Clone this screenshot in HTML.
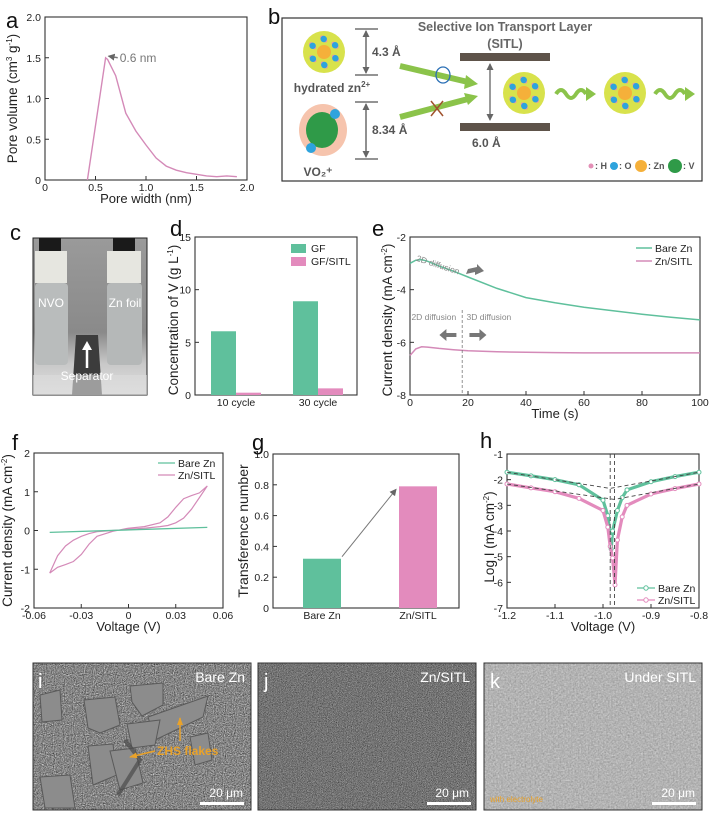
<!DOCTYPE html>
<html><head><meta charset="utf-8"><style>
html,body{margin:0;padding:0;background:#fff;}
svg{display:block;font-family:"Liberation Sans",Arial,sans-serif;}
</style></head><body>
<svg id="fig" width="710" height="813" viewBox="0 0 710 813" xmlns="http://www.w3.org/2000/svg">
<defs>
<filter id="nz1" x="0" y="0" width="100%" height="100%" color-interpolation-filters="sRGB"><feTurbulence type="fractalNoise" baseFrequency="0.9" numOctaves="2" seed="3"/><feColorMatrix type="matrix" values="0.6 0.6 0 0 -0.08  0.6 0.6 0 0 -0.08  0.6 0.6 0 0 -0.08  0 0 0 0 1"/></filter>
<filter id="nz2" x="0" y="0" width="100%" height="100%" color-interpolation-filters="sRGB"><feTurbulence type="fractalNoise" baseFrequency="1.2" numOctaves="2" seed="7"/><feColorMatrix type="matrix" values="0.5 0.5 0 0 -0.05  0.5 0.5 0 0 -0.05  0.5 0.5 0 0 -0.05  0 0 0 0 1"/></filter>
<filter id="nz3" x="0" y="0" width="100%" height="100%" color-interpolation-filters="sRGB"><feTurbulence type="fractalNoise" baseFrequency="0.6" numOctaves="3" seed="11"/><feColorMatrix type="matrix" values="0.2 0.2 0 0 0.5  0.2 0.2 0 0 0.5  0.2 0.2 0 0 0.5  0 0 0 0 1"/></filter>
<linearGradient id="photoBg" x1="0" y1="0" x2="0" y2="1"><stop offset="0" stop-color="#9a9a9a"/><stop offset="0.6" stop-color="#8a8a8a"/><stop offset="0.8" stop-color="#c8c8c8"/><stop offset="1" stop-color="#e0e0e0"/></linearGradient>
<marker id="arrGray" markerUnits="userSpaceOnUse" markerWidth="7" markerHeight="7" refX="6" refY="3.5" orient="auto-start-reverse"><path d="M0,0 L7,3.5 L0,7 z" fill="#666"/></marker>
<marker id="arrOr" markerUnits="userSpaceOnUse" markerWidth="8" markerHeight="8" refX="7" refY="4" orient="auto"><path d="M0,1 L8,4 L0,7 z" fill="#e9a22a"/></marker>
</defs>

<!-- panel labels -->
<g font-size="22" fill="#111">
<text x="6" y="28">a</text>
<text x="268" y="24">b</text>
<text x="10" y="240">c</text>
<text x="170" y="236">d</text>
<text x="372" y="236">e</text>
<text x="12" y="450">f</text>
<text x="252" y="450">g</text>
<text x="480" y="448">h</text>
</g>

<!-- panel b schematic -->
<g>
<rect x="282" y="18" width="420" height="163" fill="#fff" stroke="#333" stroke-width="1.2"/>
<text x="505" y="31" text-anchor="middle" font-size="12.5" font-weight="bold" fill="#666">Selective Ion Transport Layer</text>
<text x="505" y="48" text-anchor="middle" font-size="12.5" font-weight="bold" fill="#666">(SITL)</text>
<g id="hzn1"></g>
<text x="332" y="92" text-anchor="middle" font-size="12" font-weight="bold" fill="#555">hydrated zn<tspan font-size="8" dy="-5">2+</tspan></text>
<ellipse cx="323" cy="130" rx="24" ry="26" fill="#f6c4ad"/>
<ellipse cx="322" cy="130" rx="16" ry="18" fill="#2f9a48"/>
<circle cx="335" cy="114" r="5" fill="#2ea3dd"/>
<circle cx="311" cy="148" r="5" fill="#2ea3dd"/>
<text x="318" y="176" text-anchor="middle" font-size="12" font-weight="bold" fill="#555">VO₂⁺</text>
<g stroke="#555" stroke-width="1.3">
<line x1="355" y1="29" x2="378" y2="29"/><line x1="355" y1="75" x2="378" y2="75"/><line x1="366" y1="31" x2="366" y2="73" marker-end="url(#arrGray)" marker-start="url(#arrGray)"/>
</g>
<text x="372" y="56" font-size="12" font-weight="bold" fill="#555">4.3 Å</text>
<g stroke="#555" stroke-width="1.3">
<line x1="355" y1="102" x2="378" y2="102"/><line x1="355" y1="159" x2="378" y2="159"/><line x1="366" y1="104" x2="366" y2="157" marker-end="url(#arrGray)" marker-start="url(#arrGray)"/>
</g>
<text x="372" y="134" font-size="12" font-weight="bold" fill="#555">8.34 Å</text>
<line x1="400" y1="66" x2="468" y2="82" stroke="#8bc34a" stroke-width="6"/>
<path d="M466,75 L478,84 L464,89 z" fill="#8bc34a"/>
<line x1="400" y1="117" x2="468" y2="99" stroke="#8bc34a" stroke-width="6"/>
<path d="M464,93 L478,96 L468,105 z" fill="#8bc34a"/>
<ellipse cx="443" cy="75" rx="7" ry="8" fill="none" stroke="#2a6fb5" stroke-width="1.3"/>
<g stroke="#a0522d" stroke-width="1.5"><line x1="431" y1="101" x2="443" y2="116"/><line x1="443" y1="101" x2="431" y2="116"/></g>
<rect x="460" y="53" width="90" height="8" fill="#5e534a"/>
<rect x="460" y="123" width="90" height="8" fill="#5e534a"/>
<line x1="490" y1="64" x2="490" y2="120" stroke="#555" stroke-width="1.2" marker-start="url(#arrGray)" marker-end="url(#arrGray)"/>
<text x="472" y="147" font-size="12" font-weight="bold" fill="#555">6.0 Å</text>
<g id="hzn2"></g>
<g id="hzn3"></g>
<path d="M556,94 q5,-8 10,0 t10,0 t10,0" fill="none" stroke="#8bc34a" stroke-width="4"/>
<path d="M586,87 L596,94 L586,101 z" fill="#8bc34a"/>
<path d="M655,94 q5,-8 10,0 t10,0 t10,0" fill="none" stroke="#8bc34a" stroke-width="4"/>
<path d="M685,87 L695,94 L685,101 z" fill="#8bc34a"/>
<g font-size="9" font-weight="bold" fill="#555">
<circle cx="591" cy="166" r="2.5" fill="#e38fb6"/><text x="595" y="169">: H</text>
<circle cx="614" cy="166" r="4" fill="#2ea3dd"/><text x="619" y="169">: O</text>
<circle cx="641" cy="166" r="6" fill="#f5b03a"/><text x="648" y="169">: Zn</text>
<circle cx="675" cy="166" r="7" fill="#2f9a48"/><text x="683" y="169">: V</text>
</g>
</g>

<!-- panel c photo -->
<g>
<rect x="33" y="238" width="114" height="157" fill="url(#photoBg)" stroke="#222"/>
<rect x="39" y="238" width="22" height="13" fill="#1a1a1a"/><rect x="113" y="238" width="22" height="13" fill="#1a1a1a"/>
<rect x="35" y="251" width="32" height="32" fill="#e6e6e0"/>
<rect x="107" y="251" width="34" height="32" fill="#e6e6e0"/>
<rect x="35" y="283" width="33" height="82" rx="4" fill="#b9bcbc"/>
<rect x="107" y="283" width="35" height="82" rx="4" fill="#b5b8b8"/>
<path d="M72,395 L76,335 L98,335 L102,395 z" fill="#3c3c3c"/>
<rect x="33" y="375" width="114" height="20" fill="#dcdcdc" opacity="0.6"/>
<text x="51" y="307" text-anchor="middle" font-size="12" fill="#fff">NVO</text>
<text x="125" y="307" text-anchor="middle" font-size="12" fill="#fff">Zn foil</text>
<line x1="87" y1="368" x2="87" y2="347" stroke="#fff" stroke-width="2.5"/><path d="M82,350 L87,341 L92,350 z" fill="#fff"/>
<text x="87" y="380" text-anchor="middle" font-size="12" fill="#fff">Separator</text>
</g>

<!-- SEM images -->
<g>
<rect x="33" y="663" width="218" height="147" fill="#888" filter="url(#nz1)"/>
<g fill="#8c8c8c" stroke="#5a5a5a" stroke-width="1">
<polygon points="84,700 115,697 120,725 100,733 88,728"/>
<polygon points="130,686 163,683 163,705 142,716 132,702"/>
<polygon points="148,717 208,696 203,717 155,740"/>
<polygon points="127,724 160,720 155,745 132,748"/>
<polygon points="88,746 113,744 117,775 93,785"/>
<polygon points="110,751 135,748 143,783 120,790"/>
<polygon points="40,777 70,775 75,808 45,808"/>
<polygon points="190,737 208,733 212,760 195,765"/>
<polygon points="40,695 60,690 62,720 42,722"/>
</g>
<path d="M125,740 L140,760 L118,795" fill="none" stroke="#4a4a4a" stroke-width="4" opacity="0.7"/>
<rect x="33" y="663" width="218" height="147" fill="none" stroke="#333"/>
<text x="38" y="688" font-size="20" fill="#fff">i</text>
<text x="245" y="682" text-anchor="end" font-size="14" fill="#fff">Bare Zn</text>
<text x="157" y="755" font-size="12" font-weight="bold" fill="#e9a22a">ZHS flakes</text>
<line x1="155" y1="751" x2="130" y2="757" stroke="#e9a22a" stroke-width="1.5" marker-end="url(#arrOr)"/>
<line x1="180" y1="741" x2="180" y2="718" stroke="#e9a22a" stroke-width="1.5" marker-end="url(#arrOr)"/>
<text x="243" y="797" text-anchor="end" font-size="12" fill="#fff">20 μm</text>
<rect x="200" y="802" width="44" height="3" fill="#fff"/>
</g>
<g>
<rect x="258" y="663" width="218" height="147" fill="#777" filter="url(#nz2)"/>
<rect x="258" y="663" width="218" height="147" fill="none" stroke="#333"/>
<text x="264" y="688" font-size="20" fill="#fff">j</text>
<text x="470" y="682" text-anchor="end" font-size="14" fill="#fff">Zn/SITL</text>
<text x="469" y="797" text-anchor="end" font-size="12" fill="#fff">20 μm</text>
<rect x="427" y="802" width="44" height="3" fill="#fff"/>
</g>
<g>
<rect x="484" y="663" width="218" height="147" fill="#b5b5b5" filter="url(#nz3)"/>
<rect x="484" y="663" width="218" height="147" fill="none" stroke="#333"/>
<text x="490" y="688" font-size="20" fill="#fff">k</text>
<text x="696" y="682" text-anchor="end" font-size="14" fill="#fff">Under SITL</text>
<text x="490" y="802" font-size="8" fill="#e9a22a">with electrolyte</text>
<text x="695" y="797" text-anchor="end" font-size="12" fill="#fff">20 μm</text>
<rect x="652" y="802" width="44" height="3" fill="#fff"/>
</g>

<g id="charts"></g>
</svg>
<script>
// ---------- data ----------
const poreWidth = [0.42,0.6,0.62,0.7,0.8,0.9,1.0,1.1,1.2,1.3,1.4,1.5,1.6,1.7,1.8,1.9];
const poreVolume = [0,1.5,1.48,1.28,0.82,0.6,0.43,0.27,0.17,0.12,0.09,0.07,0.05,0.04,0.05,0.04];
const vCategories = ["10 cycle","30 cycle"];
const vGF = [6.05,8.9];
const vGFSITL = [0.22,0.63];
const caTime = [0,2,4,6,10,15,20,30,40,50,60,70,80,90,100];
const caBare = [-3.0,-2.88,-2.86,-2.92,-3.1,-3.3,-3.52,-3.95,-4.3,-4.5,-4.67,-4.8,-4.93,-5.05,-5.15];
const caSITL = [-6.5,-6.25,-6.17,-6.18,-6.23,-6.28,-6.32,-6.36,-6.38,-6.39,-6.4,-6.4,-6.4,-6.4,-6.4];
const cvVoltage = [-0.05,-0.045,-0.04,-0.035,-0.03,-0.025,-0.02,-0.01,0,0.01,0.02,0.025,0.03,0.035,0.04,0.045,0.05];
const cvSITLfwd = [-1.1,-0.65,-0.4,-0.25,-0.15,-0.08,-0.03,0.0,0.03,0.06,0.1,0.13,0.2,0.32,0.55,0.85,1.15];
const cvSITLrev = [-1.1,-0.95,-0.88,-0.8,-0.62,-0.35,-0.15,-0.02,0.06,0.1,0.2,0.35,0.6,0.82,0.9,0.97,1.15];
const cvBareV = [-0.05,0.05];
const cvBareI = [-0.05,0.08];
const tCategories = ["Bare Zn","Zn/SITL"];
const tValues = [0.32,0.79];
const tafelBareV = [-1.2,-1.15,-1.1,-1.05,-1.0,-0.99,-0.985,-0.983,-0.98,-0.97,-0.96,-0.95,-0.9,-0.85,-0.8];
const tafelBareI = [-1.71,-1.85,-2.0,-2.2,-2.8,-3.4,-4.2,-4.7,-4.0,-3.2,-2.7,-2.4,-2.08,-1.88,-1.71];
const tafelSITLV = [-1.2,-1.15,-1.1,-1.05,-1.0,-0.99,-0.985,-0.98,-0.975,-0.97,-0.96,-0.95,-0.9,-0.85,-0.8];
const tafelSITLI = [-2.17,-2.32,-2.47,-2.73,-3.2,-3.85,-4.6,-5.05,-6.1,-4.35,-3.45,-3.0,-2.56,-2.35,-2.17];

const NS = "http://www.w3.org/2000/svg";
const root = document.getElementById('charts');
function mk(tag, attrs, parent){const e=document.createElementNS(NS,tag);for(const k in attrs)e.setAttribute(k,attrs[k]);(parent||root).appendChild(e);return e;}
function lin(d0,d1,r0,r1){return v=>r0+(v-d0)*(r1-r0)/(d1-d0);}
const GREEN="#5fc09c", PINK="#e38bbd", LPINK="#d48ab8";

function axes(o){
  const g=mk('g',{});
  
  
  mk('rect',{x:o.x0,y:o.y1,width:o.x1-o.x0,height:o.y0-o.y1,fill:'none',stroke:'#333','stroke-width':1.1},g);
  if(o.xt){o.xt.forEach((v,i)=>{const x=o.sx(v);mk('line',{x1:x,y1:o.y0,x2:x,y2:o.y0-4,stroke:'#333'},g);
    const t=mk('text',{x:x,y:o.y0+11,'text-anchor':'middle','font-size':10.5,fill:'#222'},g);t.textContent=o.xl[i];
    
    });}
  o.yt.forEach((v,i)=>{const y=o.sy(v);mk('line',{x1:o.x0,y1:y,x2:o.x0+4,y2:y,stroke:'#333'},g);
    const t=mk('text',{x:o.x0-4,y:y+4,'text-anchor':'end','font-size':10.5,fill:'#222'},g);t.textContent=o.yl[i];
    
    });
  if(o.xtitle){const t=mk('text',{x:(o.x0+o.x1)/2,y:o.y0+23,'text-anchor':'middle','font-size':13,fill:'#222'},g);t.innerHTML=o.xtitle;
    
    }
  const yt=mk('text',{x:0,y:0,transform:`translate(${o.ytx},${(o.y0+o.y1)/2+(o.ydy||0)}) rotate(-90)`,'text-anchor':'middle','font-size':o.yfs||13.5,fill:'#222'},g);
  yt.innerHTML=o.ytitle;
  
  
}
function pathFrom(xs,ys,sx,sy){return xs.map((v,i)=>(i?'L':'M')+sx(v).toFixed(1)+','+sy(ys[i]).toFixed(1)).join(' ');}
function txt(x,y,s,attrs,name){const t=mk('text',Object.assign({x:x,y:y,'font-size':10.5,fill:'#222'},attrs||{}));t.textContent=s;
  
  
  return t;}

// ---------- a ----------
{const sx=lin(0,2,45,247), sy=lin(0,2,180,17);
axes({name:'pore',x0:45,x1:247,y0:180,y1:17,sx,sy,xt:[0,0.5,1,1.5,2],xl:["0","0.5","1.0","1.5","2.0"],yt:[0,0.5,1,1.5,2],yl:["0","0.5","1.0","1.5","2.0"],
 xtitle:'Pore width (nm)',ytitle:'Pore volume (cm<tspan font-size="8" dy="-5">3</tspan><tspan dy="5"> g</tspan><tspan font-size="8" dy="-5">-1</tspan><tspan dy="5">)</tspan>',ytx:17});
const p=mk('path',{d:pathFrom(poreWidth,poreVolume,sx,sy),fill:'none',stroke:LPINK,'stroke-width':1.4});


mk('line',{x1:sx(0.72),y1:sy(1.5),x2:sx(0.63),y2:sy(1.52),stroke:'#777','stroke-width':1.4,'marker-end':'url(#arrGray)'});
txt(sx(0.74),sy(1.5)+4,'0.6 nm',{fill:'#777','font-size':12},'peak-annotation');}

// ---------- d ----------
{const sy=lin(0,15,395,237); const cx=[236,318];
axes({name:'vanadium',x0:195,x1:357,y0:395,y1:237,sy,yt:[0,5,10,15],yl:["0","5","10","15"],
 ytitle:'Concentration of V (g L<tspan font-size="8" dy="-5">-1</tspan><tspan dy="5">)</tspan>',ytx:178,ydy:4});
vCategories.forEach((c,i)=>{
 const b1=mk('rect',{x:cx[i]-25,y:sy(vGF[i]),width:25,height:395-sy(vGF[i]),fill:GREEN});
 
 
 const b2=mk('rect',{x:cx[i],y:sy(vGFSITL[i]),width:25,height:395-sy(vGFSITL[i]),fill:PINK});
 
 
 txt(cx[i],406,c,{'text-anchor':'middle'},'x-category-label');
});
const l1=mk('rect',{x:291,y:244,width:15,height:9,fill:GREEN});


txt(311,252,'GF',{},'legend-gf');
const l2=mk('rect',{x:291,y:257,width:15,height:9,fill:PINK});


txt(311,265,'GF/SITL',{},'legend-gf-sitl');}

// ---------- e ----------
{const sx=lin(0,100,410,700), sy=lin(-8,-2,395,237);
axes({name:'chrono',x0:410,x1:700,y0:395,y1:237,sx,sy,xt:[0,20,40,60,80,100],xl:["0","20","40","60","80","100"],yt:[-8,-6,-4,-2],yl:["-8","-6","-4","-2"],
 xtitle:'Time (s)',ytitle:'Current density (mA cm<tspan font-size="8" dy="-5">-2</tspan><tspan dy="5">)</tspan>',ytx:392,ydy:4});
const a=mk('path',{d:pathFrom(caTime,caBare,sx,sy),fill:'none',stroke:GREEN,'stroke-width':1.5});


const b=mk('path',{d:pathFrom(caTime,caSITL,sx,sy),fill:'none',stroke:LPINK,'stroke-width':1.5});


mk('line',{x1:sx(18),y1:310,x2:sx(18),y2:395,stroke:'#777','stroke-dasharray':'3,2','stroke-width':0.8});
txt(sx(2),sy(-2.9),'2D diffusion',{fill:'#888','font-size':8.5,transform:`rotate(18 ${sx(2)} ${sy(-2.9)})`},'annotation-2d-diffusion');
txt(sx(0.5),320,'2D diffusion',{fill:'#888','font-size':8.5},'annotation-2d-left');
txt(sx(19.5),320,'3D diffusion',{fill:'#888','font-size':8.5},'annotation-3d-right');
mk('path',{d:`M${sx(20)},269 l9,-2 l0,-3 l7,7 l-9,4 l0,-3 l-9,2 z`,fill:'#777'});
mk('path',{d:`M${sx(16)},333 l-10,0 l0,-4 l-7,6 l7,6 l0,-4 l10,0 z`,fill:'#777'});
mk('path',{d:`M${sx(20.5)},333 l10,0 l0,-4 l7,6 l-7,6 l0,-4 l-10,0 z`,fill:'#777'});
mk('line',{x1:636,y1:248,x2:652,y2:248,stroke:GREEN,'stroke-width':1.5});
txt(655,252,'Bare Zn',{},'legend-bare-zn');
mk('line',{x1:636,y1:261,x2:652,y2:261,stroke:LPINK,'stroke-width':1.5});
txt(655,265,'Zn/SITL',{},'legend-zn-sitl');}

// ---------- f ----------
{const sx=lin(-0.06,0.06,34,223), sy=lin(-2,2,608,453);
axes({name:'cv',x0:34,x1:223,y0:608,y1:453,sx,sy,xt:[-0.06,-0.03,0,0.03,0.06],xl:["-0.06","-0.03","0","0.03","0.06"],yt:[-2,-1,0,1,2],yl:["-2","-1","0","1","2"],
 xtitle:'Voltage (V)',ytitle:'Current density (mA cm<tspan font-size="8" dy="-5">-2</tspan><tspan dy="5">)</tspan>',ytx:12});
const loop=pathFrom(cvVoltage,cvSITLfwd,sx,sy)+' '+cvVoltage.slice().reverse().map((v,i)=>'L'+sx(v).toFixed(1)+','+sy(cvSITLrev[cvVoltage.length-1-i]).toFixed(1)).join(' ');
const a=mk('path',{d:loop,fill:'none',stroke:LPINK,'stroke-width':1.2});


const b=mk('path',{d:pathFrom(cvBareV,cvBareI,sx,sy),fill:'none',stroke:GREEN,'stroke-width':1.3});


mk('line',{x1:158,y1:463,x2:175,y2:463,stroke:GREEN,'stroke-width':1.3});
txt(178,467,'Bare Zn',{},'legend-bare-zn');
mk('line',{x1:158,y1:475,x2:175,y2:475,stroke:LPINK,'stroke-width':1.3});
txt(178,479,'Zn/SITL',{},'legend-zn-sitl');}

// ---------- g ----------
{const sy=lin(0,1,608,454); const cx=[322,418];
axes({name:'transference',x0:273,x1:459,y0:608,y1:454,sy,yt:[0,0.2,0.4,0.6,0.8,1.0],yl:["0","0.2","0.4","0.6","0.8","1.0"],ytitle:'Transference number',ytx:248,yfs:14});
const cols=[GREEN,PINK];
tCategories.forEach((c,i)=>{
 const r=mk('rect',{x:cx[i]-19,y:sy(tValues[i]),width:38,height:608-sy(tValues[i]),fill:cols[i]});
 
 
 txt(cx[i],619,c,{'text-anchor':'middle'},'x-category-label');
});
mk('line',{x1:cx[0]+20,y1:sy(tValues[0])-2,x2:cx[1]-22,y2:sy(tValues[1]-0.02),stroke:'#777','stroke-width':1,'marker-end':'url(#arrGray)'});}

// ---------- h ----------
{const sx=lin(-1.2,-0.8,507,699), sy=lin(-7,-1,608,454);
axes({name:'tafel',x0:507,x1:699,y0:608,y1:454,sx,sy,xt:[-1.2,-1.1,-1.0,-0.9,-0.8],xl:["-1.2","-1.1","-1.0","-0.9","-0.8"],yt:[-7,-6,-5,-4,-3,-2,-1],yl:["-7","-6","-5","-4","-3","-2","-1"],
 xtitle:'Voltage (V)',ytitle:'Log I (mA cm<tspan font-size="8" dy="-5">-2</tspan><tspan dy="5">)</tspan>',ytx:494,ydy:6});
[[tafelBareV,tafelBareI,GREEN,'tafel-bare-zn'],[tafelSITLV,tafelSITLI,PINK,'tafel-zn-sitl']].forEach(s=>{
 const p=mk('path',{d:pathFrom(s[0],s[1],sx,sy),fill:'none',stroke:s[2],'stroke-width':3.2});
 
 
 s[0].forEach((v,i)=>{const c=mk('circle',{cx:sx(v),cy:sy(s[1][i]),r:2,fill:'#fff',stroke:s[2]});
  
  });
});
const dash={stroke:'#444','stroke-dasharray':'4,3','stroke-width':0.9,fill:'none'};
mk('path',Object.assign({d:`M${sx(-1.2)},${sy(-1.71)} L${sx(-0.985)},${sy(-2.34)} L${sx(-0.8)},${sy(-1.71)}`},dash));
mk('path',Object.assign({d:`M${sx(-1.2)},${sy(-2.17)} L${sx(-0.976)},${sy(-2.77)} L${sx(-0.8)},${sy(-2.17)}`},dash));
mk('line',Object.assign({x1:sx(-0.985),y1:454,x2:sx(-0.985),y2:608},dash));
mk('line',Object.assign({x1:sx(-0.976),y1:454,x2:sx(-0.976),y2:608},dash));
mk('line',{x1:637,y1:588,x2:655,y2:588,stroke:GREEN,'stroke-width':1.3});mk('circle',{cx:646,cy:588,r:2.2,fill:'#fff',stroke:GREEN});
txt(658,592,'Bare Zn',{},'legend-bare-zn');
mk('line',{x1:637,y1:600,x2:655,y2:600,stroke:PINK,'stroke-width':1.3});mk('circle',{cx:646,cy:600,r:2.2,fill:'#fff',stroke:PINK});
txt(658,604,'Zn/SITL',{},'legend-zn-sitl');}

// ---------- hydrated ions (schematic b) ----------
function hzn(id,cx,cy){const g=document.getElementById(id);
 mk('circle',{cx:cx,cy:cy,r:21,fill:'#d8e24c'},g);
 mk('circle',{cx:cx,cy:cy,r:7,fill:'#f5b03a'},g);
 for(let k=0;k<6;k++){const a=k*Math.PI/3+0.5;const x=cx+13*Math.cos(a),y=cy+13*Math.sin(a);
  mk('circle',{cx:x-1.5,cy:y-1.5,r:2,fill:'#e38fb6'},g);mk('circle',{cx:x+1.5,cy:y+1.5,r:2,fill:'#e38fb6'},g);mk('circle',{cx:x,cy:y,r:3.2,fill:'#2ea3dd'},g);}
}
hzn('hzn1',324,52);hzn('hzn2',524,93);hzn('hzn3',625,93);
</script>
</body></html>
